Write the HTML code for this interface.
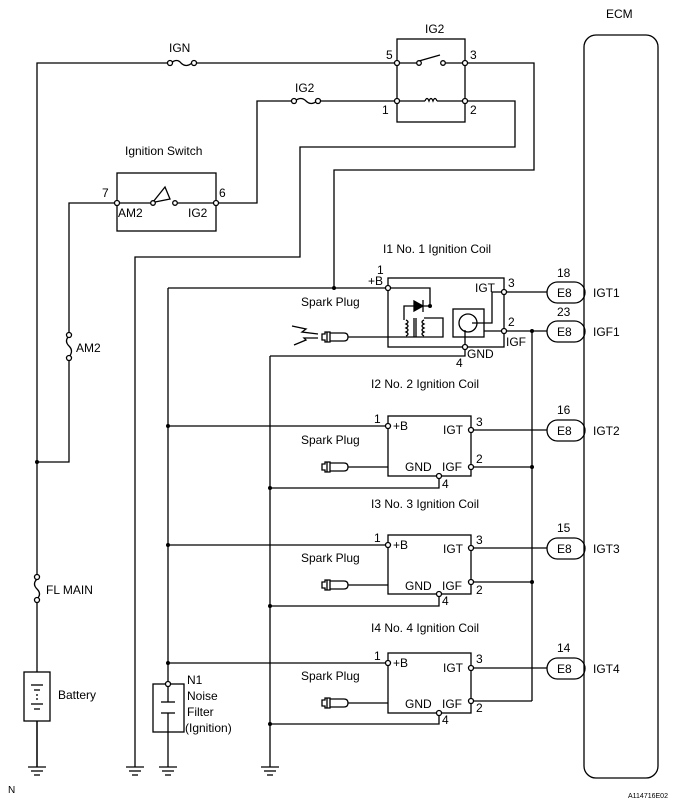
<!DOCTYPE html>
<html><head><meta charset="utf-8"><style>
html,body{margin:0;padding:0;background:#fff;}
svg{display:block;}
text{font-family:"Liberation Sans",Arial,sans-serif;font-size:12px;fill:#000;}
</style></head><body>
<svg width="688" height="804" viewBox="0 0 688 804" xmlns="http://www.w3.org/2000/svg">
<defs>
<g id="gnd"><line x1="-9" y1="0" x2="9" y2="0"/><line x1="-6" y1="4" x2="6" y2="4"/><line x1="-3" y1="8" x2="3" y2="8"/></g>
<g id="plug"><path d="M0,-3 L3,-3 L3,-5 L8,-5 L8,5 L3,5 L3,3 L0,3 Z"/><path d="M8,-4 L22,-4 Q26,-4 26,0 Q26,4 22,4 L8,4"/><line x1="5" y1="-5" x2="5" y2="5"/></g>
</defs>
<g stroke="#000" stroke-width="1.3" fill="none">
<!-- ECM -->
<rect x="584" y="35" width="74" height="743" rx="12"/>
<!-- IGN line -->
<polyline points="37,767 37,63 168,63"/>
<line x1="195" y1="63" x2="397" y2="63"/>
<path d="M171,63 Q177,58 181,63 Q186,68 192,63"/>
<circle cx="170" cy="63" r="2.5" fill="#fff"/><circle cx="194" cy="63" r="2.5" fill="#fff"/>
<!-- relay -->
<rect x="397" y="39" width="68" height="83"/>
<line x1="397" y1="63" x2="417" y2="63"/>
<line x1="419" y1="61" x2="440" y2="55"/>
<line x1="445" y1="63" x2="465" y2="63"/>
<circle cx="419" cy="63" r="2.3" fill="#fff"/><circle cx="443" cy="63" r="2.3" fill="#fff"/>
<line x1="397" y1="101" x2="425" y2="101"/><line x1="437" y1="101" x2="465" y2="101"/>
<path d="M425,101 Q427,96 429,101 Q431,96 433,101 Q435,96 437,101"/>
<circle cx="397" cy="63" r="2.5" fill="#fff"/><circle cx="465" cy="63" r="2.5" fill="#fff"/>
<circle cx="397" cy="101" r="2.5" fill="#fff"/><circle cx="465" cy="101" r="2.5" fill="#fff"/>
<polyline points="467,63 534,63 534,170 334,170 334,288"/>
<polyline points="467,101 515,101 515,147 300,147 300,257 135,257 135,767"/>
<!-- IG2 fuse -->
<polyline points="395,101 319,101"/>
<path d="M295,101 Q301,96 306,101 Q311,106 317,101"/>
<circle cx="294" cy="101" r="2.5" fill="#fff"/><circle cx="318" cy="101" r="2.5" fill="#fff"/>
<polyline points="292,101 257,101 257,203 218,203"/>
<!-- ignition switch -->
<rect x="117" y="173" width="99" height="58"/>
<line x1="117" y1="203" x2="151" y2="203"/>
<path d="M153,202 L165,187 L170,199 L155,202"/>
<line x1="177" y1="203" x2="216" y2="203"/>
<circle cx="153" cy="203" r="2.3" fill="#fff"/><circle cx="175" cy="203" r="2.3" fill="#fff"/>
<circle cx="117" cy="203" r="2.5" fill="#fff"/><circle cx="216" cy="203" r="2.5" fill="#fff"/>
<polyline points="115,203 69,203 69,334"/>
<path d="M69,336 Q64,341 69,346 Q74,351 69,357"/>
<circle cx="69" cy="335" r="2.5" fill="#fff"/><circle cx="69" cy="358" r="2.5" fill="#fff"/>
<polyline points="69,360 69,462 37,462"/>
<!-- FL main -->
<line x1="37" y1="575" x2="37" y2="602" stroke="#fff" stroke-width="4"/>
<path d="M37,579 Q32,584 37,589 Q42,594 37,599"/>
<circle cx="37" cy="577" r="2.5" fill="#fff"/><circle cx="37" cy="600" r="2.5" fill="#fff"/>
<!-- battery -->
<rect x="24" y="672" width="26" height="49" fill="#fff"/>
<line x1="31" y1="685" x2="43" y2="685"/><line x1="34" y1="690" x2="40" y2="690"/>
<line x1="37" y1="694" x2="37" y2="700" stroke-dasharray="2,2"/>
<line x1="31" y1="704" x2="43" y2="704"/><line x1="34" y1="709" x2="40" y2="709"/>
<use href="#gnd" x="37" y="767"/><use href="#gnd" x="135" y="767"/><use href="#gnd" x="168" y="767"/><use href="#gnd" x="270" y="767"/>
<line x1="37" y1="721" x2="37" y2="767"/>
<!-- +B bus -->
<polyline points="168,288 168,767"/>
<line x1="168" y1="288" x2="388" y2="288"/>
<line x1="168" y1="426" x2="388" y2="426"/>
<line x1="168" y1="545" x2="388" y2="545"/>
<line x1="168" y1="663" x2="388" y2="663"/>
<!-- noise filter -->
<rect x="153" y="684" width="31" height="48" fill="#fff"/>
<line x1="168" y1="684" x2="168" y2="702"/><line x1="161" y1="702" x2="175" y2="702"/>
<line x1="161" y1="713" x2="175" y2="713"/><line x1="168" y1="713" x2="168" y2="732"/>
<circle cx="168" cy="684" r="2.5" fill="#fff"/>
<!-- GND bus -->
<line x1="270" y1="356" x2="270" y2="767"/>
<polyline points="465,347 465,356 270,356"/>
<polyline points="439,476 439,488 270,488"/>
<polyline points="439,594 439,606 270,606"/>
<polyline points="439,713 439,724 270,724"/>
<!-- IGF bus -->
<line x1="532" y1="331" x2="532" y2="701"/>
<line x1="504" y1="331" x2="547" y2="331"/>
<line x1="471" y1="467" x2="532" y2="467"/>
<line x1="471" y1="582" x2="532" y2="582"/>
<line x1="471" y1="701" x2="532" y2="701"/>
<!-- IGT lines -->
<line x1="504" y1="292" x2="547" y2="292"/>
<line x1="471" y1="430" x2="547" y2="430"/>
<line x1="471" y1="548" x2="547" y2="548"/>
<line x1="471" y1="668" x2="547" y2="668"/>
<!-- pills -->
<rect x="547" y="282" width="38" height="21" rx="10.5"/>
<rect x="547" y="321" width="38" height="21" rx="10.5"/>
<rect x="547" y="420" width="38" height="21" rx="10.5"/>
<rect x="547" y="538" width="38" height="21" rx="10.5"/>
<rect x="547" y="658" width="38" height="21" rx="10.5"/>
<!-- I1 -->
<rect x="388" y="278" width="116" height="69"/>
<polyline points="388,288 430,288 430,306"/>
<polyline points="430,306 404,306 404,320"/>
<path d="M414,301 L414,311 L423,306 Z" fill="#000"/><line x1="423" y1="300" x2="423" y2="312"/>
<path d="M406,320 q4,2 0,4 q4,2 0,4 q4,2 0,4 q4,2 0,4"/>
<path d="M424,320 q-4,2 0,4 q-4,2 0,4 q-4,2 0,4 q-4,2 0,4"/>
<line x1="414" y1="318" x2="414" y2="337"/><line x1="416" y1="318" x2="416" y2="337"/>
<polyline points="424,318 443,318 443,337 348,337"/>
<rect x="453" y="309" width="31" height="28"/>
<circle cx="468" cy="323" r="9"/>
<polyline points="472,323 492,323 492,292 504,292"/>
<polyline points="484,331 504,331"/>
<polyline points="465,330 465,347"/>
<circle cx="388" cy="288" r="2.5" fill="#fff"/><circle cx="504" cy="292" r="2.5" fill="#fff"/>
<circle cx="504" cy="331" r="2.5" fill="#fff"/><circle cx="465" cy="347" r="2.5" fill="#fff"/>
<path d="M292,326 L306,329 L302,332 L318,334"/><path d="M294,345 L306,340 L304,338 L318,338"/>
<!-- I2..I4 boxes -->
<rect x="388" y="416" width="83" height="60"/>
<rect x="388" y="535" width="83" height="59"/>
<rect x="388" y="653" width="83" height="60"/>
<line x1="348" y1="467" x2="388" y2="467"/>
<line x1="348" y1="585" x2="388" y2="585"/>
<line x1="348" y1="703" x2="388" y2="703"/>
<circle cx="388" cy="426" r="2.5" fill="#fff"/><circle cx="471" cy="430" r="2.5" fill="#fff"/><circle cx="471" cy="467" r="2.5" fill="#fff"/><circle cx="439" cy="476" r="2.5" fill="#fff"/>
<circle cx="388" cy="545" r="2.5" fill="#fff"/><circle cx="471" cy="548" r="2.5" fill="#fff"/><circle cx="471" cy="582" r="2.5" fill="#fff"/><circle cx="439" cy="594" r="2.5" fill="#fff"/>
<circle cx="388" cy="663" r="2.5" fill="#fff"/><circle cx="471" cy="668" r="2.5" fill="#fff"/><circle cx="471" cy="701" r="2.5" fill="#fff"/><circle cx="439" cy="713" r="2.5" fill="#fff"/>
<use href="#plug" x="322" y="337"/><use href="#plug" x="322" y="467"/><use href="#plug" x="322" y="585"/><use href="#plug" x="322" y="703"/>
</g>
<g fill="#000">
<circle cx="37" cy="462" r="2"/><circle cx="334" cy="288" r="2"/><circle cx="168" cy="426" r="2"/><circle cx="168" cy="545" r="2"/><circle cx="168" cy="663" r="2"/>
<circle cx="270" cy="488" r="2"/><circle cx="270" cy="606" r="2"/><circle cx="270" cy="724" r="2"/>
<circle cx="532" cy="331" r="2"/><circle cx="532" cy="467" r="2"/><circle cx="532" cy="582" r="2"/><circle cx="430" cy="306" r="2"/>
</g>
<text x="606" y="18">ECM</text>
<text x="425" y="33">IG2</text>
<text x="169" y="52">IGN</text>
<text x="295" y="92">IG2</text>
<text x="386" y="59">5</text><text x="470" y="59">3</text><text x="382" y="114">1</text><text x="470" y="114">2</text>
<text x="125" y="155">Ignition Switch</text>
<text x="102" y="197">7</text><text x="219" y="197">6</text>
<text x="118" y="217">AM2</text><text x="188" y="217">IG2</text>
<text x="76" y="352">AM2</text>
<text x="46" y="594">FL MAIN</text>
<text x="58" y="699">Battery</text>
<text x="187" y="684">N1</text><text x="187" y="700">Noise</text><text x="187" y="716">Filter</text><text x="185" y="732">(Ignition)</text>
<text x="383" y="253">I1 No. 1 Ignition Coil</text>
<text x="371" y="388">I2 No. 2 Ignition Coil</text>
<text x="371" y="508">I3 No. 3 Ignition Coil</text>
<text x="371" y="632">I4 No. 4 Ignition Coil</text>
<text x="301" y="306">Spark Plug</text><text x="301" y="444">Spark Plug</text><text x="301" y="562">Spark Plug</text><text x="301" y="680">Spark Plug</text>
<text x="377" y="274">1</text><text x="368" y="285">+B</text>
<text x="475" y="292">IGT</text><text x="508" y="287">3</text><text x="508" y="326">2</text>
<text x="506" y="346">IGF</text><text x="467" y="358">GND</text><text x="456" y="367">4</text>
<g>
<text x="374" y="423">1</text><text x="393" y="430">+B</text><text x="443" y="434">IGT</text><text x="476" y="426">3</text>
<text x="405" y="471">GND</text><text x="442" y="471">IGF</text><text x="476" y="463">2</text><text x="442" y="488">4</text>
<text x="374" y="542">1</text><text x="393" y="549">+B</text><text x="443" y="553">IGT</text><text x="476" y="544">3</text>
<text x="405" y="590">GND</text><text x="442" y="590">IGF</text><text x="476" y="594">2</text><text x="442" y="605">4</text>
<text x="374" y="660">1</text><text x="393" y="667">+B</text><text x="443" y="672">IGT</text><text x="476" y="663">3</text>
<text x="405" y="708">GND</text><text x="442" y="708">IGF</text><text x="476" y="712">2</text><text x="442" y="724">4</text>
</g>
<text x="557" y="277">18</text><text x="557" y="316">23</text><text x="557" y="414">16</text><text x="557" y="532">15</text><text x="557" y="652">14</text>
<text x="557" y="297">E8</text><text x="557" y="336">E8</text><text x="557" y="435">E8</text><text x="557" y="553">E8</text><text x="557" y="673">E8</text>
<text x="593" y="297">IGT1</text><text x="593" y="336">IGF1</text><text x="593" y="435">IGT2</text><text x="593" y="553">IGT3</text><text x="593" y="673">IGT4</text>
<text x="8" y="793" style="font-size:10px">N</text>
<text x="628" y="798" style="font-size:7px">A114716E02</text>
</svg>
</body></html>
